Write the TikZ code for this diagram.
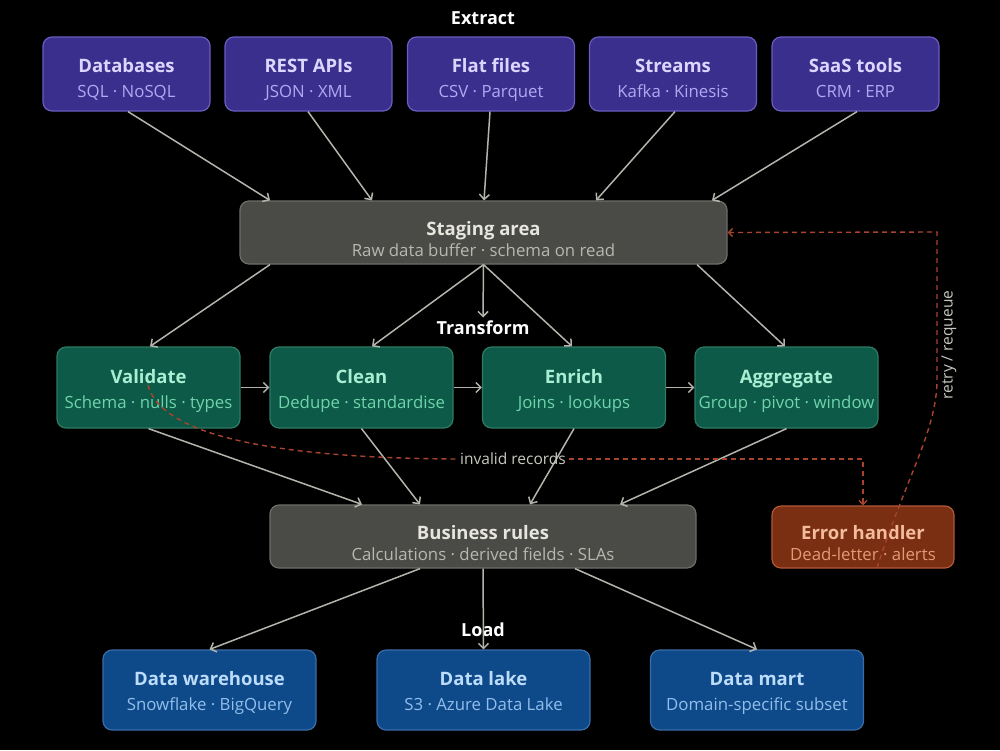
\documentclass[tikz,border=0pt]{standalone}
\usepackage{fontspec}
\setmainfont{Open Sans}
\usetikzlibrary{arrows.meta}
\definecolor{bg}{HTML}{000000}
\definecolor{pfill}{HTML}{3A2F8C}\definecolor{pdraw}{HTML}{6A5CC0}
\definecolor{ptitle}{HTML}{DCD6FF}\definecolor{psub}{HTML}{B2A8F2}
\definecolor{gfill}{HTML}{4A4A46}\definecolor{gdraw}{HTML}{6E6E68}
\definecolor{gtitle}{HTML}{E6E6DE}\definecolor{gsub}{HTML}{B8B8B0}
\definecolor{tfill}{HTML}{0E5A48}\definecolor{tdraw}{HTML}{2E7A64}
\definecolor{ttitle}{HTML}{A8EED2}\definecolor{tsub}{HTML}{6ED4AA}
\definecolor{bfill}{HTML}{0E4A8A}\definecolor{bdraw}{HTML}{3A6CA8}
\definecolor{btitle}{HTML}{BCDCFA}\definecolor{bsub}{HTML}{92BEEA}
\definecolor{efill}{HTML}{7A2E12}\definecolor{edraw}{HTML}{B4583A}
\definecolor{etitle}{HTML}{F4BC9C}\definecolor{esub}{HTML}{E49A74}
\definecolor{arr}{HTML}{B4B4AC}
\definecolor{dsh}{HTML}{A8442E}
\definecolor{lbl}{HTML}{C8C8C0}
\newcommand\toppad{20pt}
\newcommand\boxtext[4]{\rule{0pt}{\toppad}{\color{#1}\bfseries\fontsize{18.5}{20}\selectfont #3}\\{\color{#2}\fontsize{16.8}{20}\selectfont #4\rule[-5pt]{0pt}{5pt}}}
\tikzset{
  card/.style={rectangle, rounded corners=9pt, line width=1.2pt, align=center, inner sep=0pt},
  widegap/.style={font=\fontsize{16}{25}\selectfont},
  narrowgap/.style={font=\fontsize{16}{21}\selectfont},
  srcbox/.style={card, widegap, fill=pfill, draw=pdraw, minimum width=167pt, minimum height=74pt,
    execute at begin node={\def\toppad{26pt}}},
  grybox/.style={card, narrowgap, fill=gfill, draw=gdraw, minimum height=63pt,
    execute at begin node={\def\toppad{31pt}}},
  trbox/.style={card, widegap, fill=tfill, draw=tdraw, minimum width=183pt, minimum height=81pt,
    execute at begin node={\def\toppad{21pt}}},
  ldbox/.style={card, widegap, fill=bfill, draw=bdraw, minimum width=213pt, minimum height=80pt,
    execute at begin node={\def\toppad{20pt}}},
  errbox/.style={card, narrowgap, fill=efill, draw=edraw, minimum width=182pt, minimum height=62pt,
    execute at begin node={\def\toppad{30pt}}},
  phase/.style={text=white, font=\bfseries\fontsize{18}{20}\selectfont},
  flow/.style={draw=arr, line width=1.5pt, -{Straight Barb[length=5pt,width=10pt]}},
  errflow/.style={draw=dsh, line width=1.4pt, dash pattern=on 5pt off 4pt, -{Straight Barb[length=4pt,width=8pt]}},
  note/.style={text=lbl, font=\fontsize{15.5}{18}\selectfont}
}
\begin{document}
\begin{tikzpicture}[x=1pt,y=-1pt]
\useasboundingbox (0,0) rectangle (1000,750);
\fill[bg] (0,0) rectangle (1000,750);

\node[phase] (lex) at (483,18) {Extract};
\node[srcbox] (db) at (126.5,74) {\boxtext{ptitle}{psub}{Databases}{SQL · NoSQL}};
\node[srcbox] (api) at (308.5,74) {\boxtext{ptitle}{psub}{REST APIs}{JSON · XML}};
\node[srcbox] (ff) at (491,74) {\boxtext{ptitle}{psub}{Flat files}{CSV · Parquet}};
\node[srcbox] (st) at (673,74) {\boxtext{ptitle}{psub}{Streams}{Kafka · Kinesis}};
\node[srcbox] (saas) at (855.5,74) {\boxtext{ptitle}{psub}{SaaS tools}{CRM · ERP}};

\node[grybox, minimum width=487pt] (stg) at (483.5,232.5) {\boxtext{gtitle}{gsub}{Staging area}{Raw data buffer · schema on read}};

\node[phase] (ltr) at (483,328) {Transform};
\node[trbox] (val) at (148.5,387.5) {\boxtext{ttitle}{tsub}{Validate}{Schema · nulls · types}};
\node[trbox] (cln) at (361.5,387.5) {\boxtext{ttitle}{tsub}{Clean}{Dedupe · standardise}};
\node[trbox] (enr) at (574,387.5) {\boxtext{ttitle}{tsub}{Enrich}{Joins · lookups}};
\node[trbox] (agg) at (786.5,387.5) {\boxtext{ttitle}{tsub}{Aggregate}{Group · pivot · window}};

\node[grybox, minimum width=426pt] (bus) at (483,536.5) {\boxtext{gtitle}{gsub}{Business rules}{Calculations · derived fields · SLAs}};
\node[errbox] (err) at (863,537) {\boxtext{etitle}{esub}{Error handler}{Dead-letter · alerts}};

\node[phase] (lld) at (483,630) {Load};
\node[ldbox] (dw) at (209.5,690) {\boxtext{btitle}{bsub}{Data warehouse}{Snowflake · BigQuery}};
\node[ldbox] (dl) at (483.5,690) {\boxtext{btitle}{bsub}{Data lake}{S3 · Azure Data Lake}};
\node[ldbox] (dm) at (757,690) {\boxtext{btitle}{bsub}{Data mart}{Domain-specific subset}};

% extract -> staging
\draw[flow] (db.south -| 128,0) -- (stg.north -| 270,0);
\draw[flow] (api.south -| 308,0) -- (stg.north -| 372,0);
\draw[flow] (ff.south -| 490,0) -- (stg.north -| 484,0);
\draw[flow] (st.south -| 675,0) -- (stg.north -| 596,0);
\draw[flow] (saas.south -| 857,0) -- (stg.north -| 712,0);

% staging -> transform
\draw[flow] (stg.south -| 270,0) -- (val.north -| 150,0);
\draw[flow] (stg.south) -- (ltr.north);
\draw[flow] (stg.south) -- (cln.north -| 372,0);
\draw[flow] (stg.south) -- (enr.north -| 572,0);
\draw[flow] (stg.south -| 697,0) -- (agg.north -| 785,0);

% transform chain
\draw[flow] (val.east) -- (cln.west);
\draw[flow] (cln.east) -- (enr.west);
\draw[flow] (enr.east) -- (agg.west);

% transform -> business
\draw[flow] (val.south) -- (bus.north -| 362,0);
\draw[flow] (cln.south) -- (bus.north -| 420,0);
\draw[flow] (enr.south) -- (bus.north -| 530,0);
\draw[flow] (agg.south) -- (bus.north -| 620,0);

% business -> load
\draw[flow] (bus.south -| 420,0) -- (dw.north);
\draw[flow] (bus.south) -- (dl.north);
\draw[flow] (bus.south -| 575,0) -- (dm.north);

% invalid records
\node[note] (inv) at (513,459) {invalid records};
\coordinate (vstart) at (148,385);
\draw[draw=dsh, line width=1.4pt, dash pattern=on 5pt off 4pt] (vstart) .. controls (160,432) and (260,458) .. (inv.west);
\draw[errflow] (inv.east) -- (err.north |- inv.east) -- (err.north);

% retry / requeue
\coordinate (rstart) at (877,568);
\draw[errflow] (rstart) .. controls (905,480) and (937,430) .. (937,380) -- (937,232) -- (stg.east);
\node[note, rotate=90] (rq) at (949,345) {retry / requeue};
\end{tikzpicture}
\end{document}
